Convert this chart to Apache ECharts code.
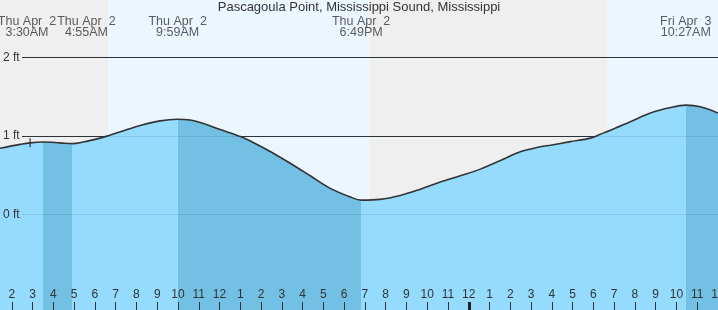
<!DOCTYPE html>
<html>
<head>
<meta charset="utf-8">
<script src="https://cdn.jsdelivr.net/npm/echarts@6/dist/echarts.min.js"></script>
<style>html,body{margin:0;padding:0;background:#fff}#c{width:718px;height:310px}</style>
</head>
<body>
<div id="c"></div>
<script>
// hours since midnight, Thu Apr 2
var titleText = 'Pascagoula Point, Mississippi Sound, Mississippi';
var xMin = 1.43, xMax = 36.0;
var yMin = -1.22, yMax = 2.73;
var tideTimes = [1.43, 2.40, 2.88, 3.50, 4.32, 4.92, 5.43, 6.25, 6.64, 7.22, 8.18, 9.14, 9.98, 10.59, 11.07, 12.03, 13.0, 13.62, 14.44, 15.40, 16.37, 17.33, 18.30, 18.82, 19.74, 20.70, 21.67, 22.63, 23.59, 24.56, 25.52, 26.48, 27.45, 27.93, 28.89, 29.86, 30.34, 30.82, 31.78, 32.75, 33.71, 34.45, 35.15, 36.0];
var tideHeights = [0.84, 0.89, 0.91, 0.92, 0.91, 0.90, 0.92, 0.97, 1.00, 1.05, 1.13, 1.19, 1.21, 1.20, 1.17, 1.08, 0.99, 0.915, 0.80, 0.65, 0.49, 0.33, 0.22, 0.18, 0.19, 0.24, 0.32, 0.41, 0.49, 0.575, 0.685, 0.795, 0.86, 0.88, 0.925, 0.97, 1.02, 1.07, 1.18, 1.29, 1.36, 1.39, 1.37, 1.29];
var eventTimes = [3.5, 4.9167, 9.9833, 18.8167, 34.45];
var eventDays = ['Thu Apr  2', 'Thu Apr  2', 'Thu Apr  2', 'Thu Apr  2', 'Fri Apr  3'];
var eventLabels = ['3:30AM', '4:55AM', '9:59AM', '6:49PM', '10:27AM'];
var sunrise = [6.65, 30.69];
var sunset = [19.22];
var hourTicks = [];
for (var h = 2; h <= 36; h++) hourTicks.push(h);
var midnightTicks = [24];
var ftTicks = [0, 1, 2];
var nowTime = 2.88, nowHeight = 0.91;

var lightFill = '#94dbfd', darkFill = '#72c0e4';
var span = xMax - xMin;
var stops = [];
var bounds = [xMin].concat(eventTimes).concat([xMax]);
for (var i = 0; i < bounds.length - 1; i++) {
  var col = (i % 2 === 1) ? darkFill : lightFill;
  stops.push({offset: (bounds[i] - xMin) / span, color: col});
  stops.push({offset: (bounds[i + 1] - xMin) / span, color: col});
}
var nightCol = '#efefef', dayCol = '#ecf6ff';
var bands = [
  [{xAxis: xMin, itemStyle: {color: nightCol}}, {xAxis: sunrise[0]}],
  [{xAxis: sunrise[0], itemStyle: {color: dayCol}}, {xAxis: sunset[0]}],
  [{xAxis: sunset[0], itemStyle: {color: nightCol}}, {xAxis: sunrise[1]}],
  [{xAxis: sunrise[1], itemStyle: {color: dayCol}}, {xAxis: xMax}]
];

var chart = echarts.init(document.getElementById('c'), null, {renderer: 'canvas'});
chart.setOption({
  animation: false,
  backgroundColor: '#ffffff',
  title: {
    text: titleText, left: 'center', top: 1, padding: 0,
    textStyle: {fontFamily: 'Liberation Sans, Arial', fontSize: 13, fontWeight: 'normal', color: '#333', lineHeight: 13}
  },
  grid: [
    {left: 0, right: 0, top: 0, bottom: 0, containLabel: false, outerBoundsMode: 'none'},
    {left: 22, right: 0, top: 0, bottom: 0, containLabel: false, outerBoundsMode: 'none'}
  ],
  xAxis: [
    {type: 'value', gridIndex: 0, min: xMin, max: xMax, z: 4, position: 'bottom',
     axisLine: {show: false, onZero: false}, splitLine: {show: false},
     axisTick: {show: true, inside: true, length: 8, customValues: hourTicks, lineStyle: {color: '#333', width: 1}},
     axisLabel: {show: true, inside: true, margin: 9, customValues: hourTicks, hideOverlap: false,
       fontFamily: 'Liberation Sans, Arial', fontSize: 12, color: '#333',
       formatter: function (v) { var r = Math.round(v) % 12; return String(r === 0 ? 12 : r); }}},
    {type: 'value', gridIndex: 0, min: xMin, max: xMax, z: 4, position: 'bottom',
     axisLine: {show: false, onZero: false}, splitLine: {show: false}, axisLabel: {show: false},
     axisTick: {show: true, inside: true, length: 8, customValues: midnightTicks, lineStyle: {color: '#222', width: 3}}},
    {type: 'value', gridIndex: 1, min: xMin, max: xMax, show: false}
  ],
  yAxis: [
    {type: 'value', gridIndex: 0, min: yMin, max: yMax, z: 4,
     axisLine: {show: false, onZero: false}, axisTick: {show: false}, splitLine: {show: false},
     axisLabel: {show: true, inside: true, margin: 3, customValues: ftTicks,
       fontFamily: 'Liberation Sans, Arial', fontSize: 12, color: '#333',
       formatter: function (v) { return v + ' ft'; }}},
    {type: 'value', gridIndex: 1, min: yMin, max: yMax, show: false}
  ],
  series: [
    {type: 'line', xAxisIndex: 0, yAxisIndex: 0, data: [], z: 0, silent: true,
     markArea: {silent: true, z: 0, data: bands}},
    {type: 'line', xAxisIndex: 2, yAxisIndex: 1, data: [], z: 1, silent: true,
     markLine: {silent: true, z: 1, symbol: 'none', label: {show: false},
       lineStyle: {color: '#333', width: 1, type: 'solid'},
       data: ftTicks.map(function (v) { return {yAxis: v}; })}},
    {type: 'line', xAxisIndex: 0, yAxisIndex: 0, z: 2, silent: true,
     data: tideTimes.map(function (t, i) { return [t, tideHeights[i]]; }),
     smooth: 0.35, showSymbol: false, symbol: 'none',
     lineStyle: {color: '#333', width: 1.6},
     areaStyle: {origin: 'start', opacity: 1,
       color: {type: 'linear', x: 0, y: 0, x2: 1, y2: 0, colorStops: stops}}},
    {type: 'line', xAxisIndex: 2, yAxisIndex: 1, data: [], z: 3, silent: true,
     markLine: {silent: true, z: 3, symbol: 'none', label: {show: false},
       lineStyle: {color: 'rgba(0,60,110,0.12)', width: 1, type: 'solid'},
       data: ftTicks.map(function (v) { return {yAxis: v}; })}},
    {type: 'scatter', xAxisIndex: 0, yAxisIndex: 0, z: 5, silent: true,
     symbol: 'rect', symbolSize: [1.5, 9], itemStyle: {color: '#333'},
     data: [[nowTime, nowHeight]]},
    {type: 'scatter', xAxisIndex: 0, yAxisIndex: 0, z: 5, silent: true,
     symbolSize: 0, clip: false,
     data: eventTimes.map(function (t, i) {
       var d = {value: [t, yMax]};
       if (i === 0) d.label = {offset: [-16, 0]};
       if (i === 1) d.label = {offset: [14, 0]};
       return d;
     }),
     label: {show: true, position: 'bottom', distance: 16, align: 'center',
       fontFamily: 'Liberation Sans, Arial', fontSize: 12.5, lineHeight: 11, color: '#333',
       formatter: function (p) { return eventDays[p.dataIndex] + '\n' + eventLabels[p.dataIndex]; }}}
  ]
});
</script>
</body>
</html>
